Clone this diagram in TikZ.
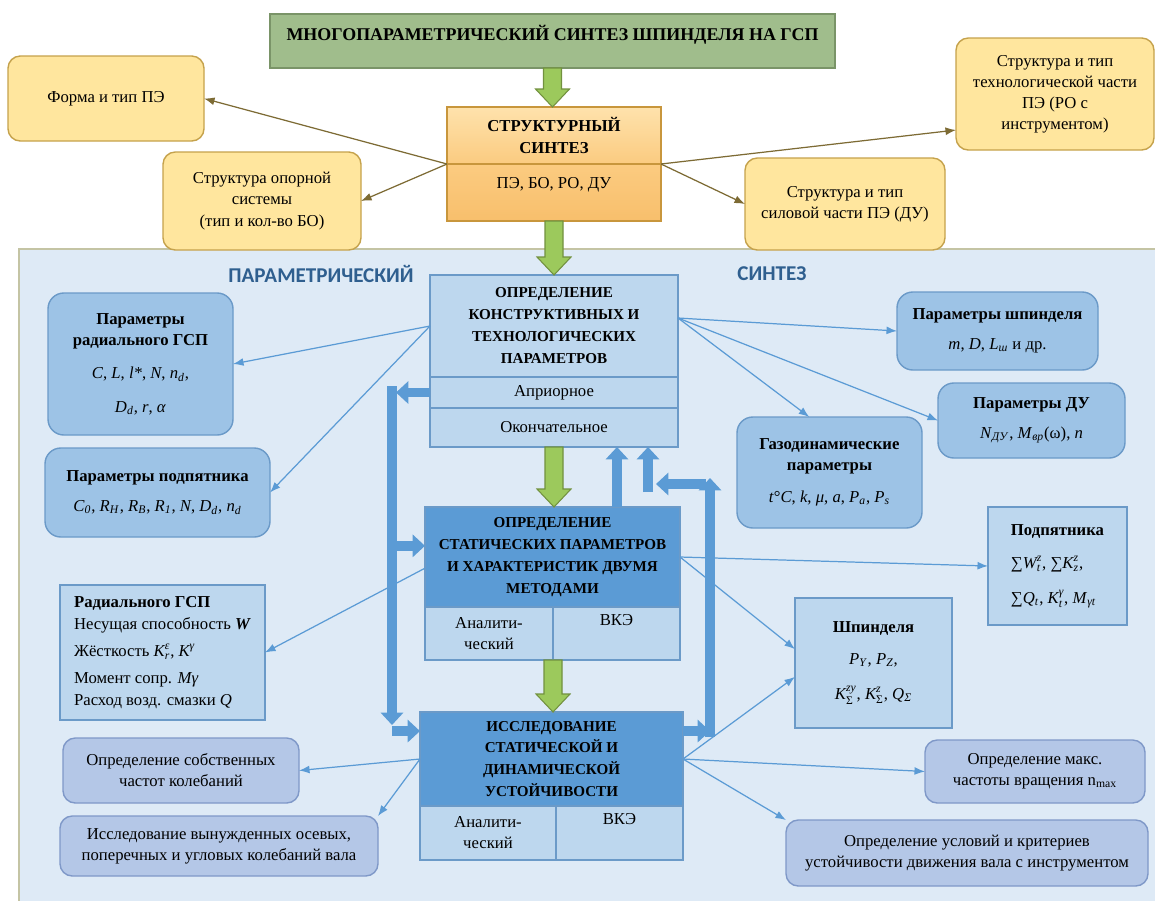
\documentclass[tikz,border=0pt]{standalone}
\usepackage{amsmath}
\usepackage{fontspec}
\setmainfont{Liberation Serif}
\newfontfamily\headfont{Carlito}
\usetikzlibrary{positioning,calc,arrows.meta}

\definecolor{panelfill}{HTML}{DEEAF6}
\definecolor{panelline}{HTML}{C4C4A4}
\definecolor{topgreen}{HTML}{A0BD8C}
\definecolor{topgreenline}{HTML}{7A9468}
\definecolor{arrgreen}{HTML}{9CC95C}
\definecolor{arrgreenline}{HTML}{72913F}
\definecolor{orlight}{HTML}{FEE2AC}
\definecolor{ormid}{HTML}{FBCB80}
\definecolor{ordark}{HTML}{F8BF6C}
\definecolor{orline}{HTML}{C8963C}
\definecolor{yelfill}{HTML}{FFE69E}
\definecolor{yelline}{HTML}{C5A24C}
\definecolor{olivearr}{HTML}{7D6B34}
\definecolor{midblue}{HTML}{5B9BD5}
\definecolor{cellblue}{HTML}{BDD7EE}
\definecolor{cellline}{HTML}{6B9AC8}
\definecolor{roundblue}{HTML}{9DC3E6}
\definecolor{lavfill}{HTML}{B4C7E7}
\definecolor{lavline}{HTML}{7F98C8}
\definecolor{titleblue}{HTML}{2F5F8F}

\tikzset{
  wh/.style 2 args={minimum width=#1*0.02cm, minimum height=#2*0.02cm},
  box/.style={draw, line width=0.8pt, outer sep=0pt, inner sep=2pt, align=center, text=black},
  titlebox/.style={box, fill=topgreen, draw=topgreenline, font=\bfseries\fontsize{10.2}{13}\selectfont},
  orbox/.style={box, draw=orline},
  ybox/.style={box, fill=yelfill, draw=yelline, rounded corners=7pt},
  cellbox/.style={box, fill=cellblue, draw=cellline},
  darkbox/.style={box, fill=midblue, draw=cellline},
  rbox/.style={box, fill=roundblue, draw=cellline, rounded corners=9pt},
  lavbox/.style={box, fill=lavfill, draw=lavline, rounded corners=7pt},
  headtxt/.style={font=\bfseries\fontsize{8.6}{12.5}\selectfont},
  sidelbl/.style={font=\headfont\bfseries\fontsize{12}{14}\selectfont, text=titleblue},
  link/.style={draw=midblue, line width=0.7pt, -{Latex[length=6pt,width=4.5pt]}},
  olink/.style={draw=olivearr, line width=0.7pt, -{Latex[length=6pt,width=4.5pt]}},
  fat/.style={draw=midblue, line width=5.5pt, -{Triangle[width=12.5pt,length=7pt]}}
}

\begin{document}
\begin{tikzpicture}[x=0.02cm, y=-0.02cm, font=\fontsize{9.5}{12}\selectfont]

  \def\ivar#1#2{\textit{#1}\textsubscript{\textit{#2}}}

  \def\greenarrow#1#2{
    \coordinate (ga) at (#1);
    \coordinate (gb) at (#1 |- #2);
    \filldraw[fill=arrgreen, draw=arrgreenline, line width=0.6pt]
      ($(ga)+(-9,0)$) -- ($(gb)+(-9,-18)$) -- ($(gb)+(-17,-18)$) -- (gb)
      -- ($(gb)+(17,-18)$) -- ($(gb)+(9,-18)$) -- ($(ga)+(9,0)$) -- cycle;
  }

  \useasboundingbox (0,0) rectangle (1155,900);
  \fill[white] (0,0) rectangle (1155,900);

  % panel of the parametric synthesis
  \filldraw[fill=panelfill, draw=panelline, line width=1pt] (19,249) rectangle (1175,920);
  \node[sidelbl] (ptitle) at (321,274) {ПАРАМЕТРИЧЕСКИЙ};
  \node[sidelbl] (stitle) at (772,274) {СИНТЕЗ};

  % structural synthesis
  \node[titlebox, wh={565}{54}, text depth=9pt] (title) at (552.5,41) {МНОГОПАРАМЕТРИЧЕСКИЙ СИНТЕЗ ШПИНДЕЛЯ НА ГСП};
  \node[orbox, wh={214}{57}, top color=orlight, bottom color=ormid, font=\bfseries\fontsize{9.5}{12.5}\selectfont] (struct) at (554,135.5) {СТРУКТУРНЫЙ\\СИНТЕЗ};
  \node[orbox, wh={214}{57}, top color=ormid, bottom color=ordark, text depth=11pt, below=0pt of struct] (structlo) {ПЭ, БО, РО, ДУ};

  \node[ybox, wh={196}{85}] (forma) at (106,98.5) {Форма и тип ПЭ};
  \node[ybox, wh={198}{98}] (opora) at (262,201) {Структура опорной\\системы\\(тип и кол-во БО)};
  \node[ybox, wh={198}{112}] (tehn) at (1055,94) {Структура и тип\\технологической части\\ПЭ (РО с\\инструментом)};
  \node[ybox, wh={200}{92}] (silov) at (845,204) {Структура и тип\\силовой части ПЭ (ДУ)};

  \draw[olink] (struct.south west) -- (forma.east);
  \draw[olink] (struct.south west) -- (opora.east);
  \draw[olink] (struct.south east) -- (tehn.200);
  \draw[olink] (struct.south east) -- (silov.west);

  % parametric synthesis, centre column
  \node[cellbox, wh={248}{102}, headtxt] (konstr) at (554,326) {ОПРЕДЕЛЕНИЕ\\КОНСТРУКТИВНЫХ И\\ТЕХНОЛОГИЧЕСКИХ\\ПАРАМЕТРОВ};
  \node[cellbox, wh={248}{31}, below=0pt of konstr] (apr) {Априорное};
  \node[cellbox, wh={248}{39}, below=0pt of apr] (okon) {Окончательное};

  \node[darkbox, wh={255}{100}, headtxt] (stat) at (552.5,557) {ОПРЕДЕЛЕНИЕ\\СТАТИЧЕСКИХ ПАРАМЕТРОВ\\И ХАРАКТЕРИСТИК ДВУМЯ\\МЕТОДАМИ};
  \node[cellbox, wh={128}{53}, below right=0pt and 0pt of stat.south west] (statan) {Аналити-\\ческий};
  \node[cellbox, wh={127}{53}, below left=0pt and 0pt of stat.south east] (statvke) {ВКЭ\\\strut};

  \node[darkbox, wh={263}{94}, headtxt] (issl) at (551.5,759) {ИССЛЕДОВАНИЕ\\СТАТИЧЕСКОЙ И\\ДИНАМИЧЕСКОЙ\\УСТОЙЧИВОСТИ};
  \node[cellbox, wh={136}{54}, below right=0pt and 0pt of issl.south west] (isslan) {Аналити-\\ческий};
  \node[cellbox, wh={127}{54}, below left=0pt and 0pt of issl.south east] (isslvke) {ВКЭ\\\strut};

  \greenarrow{title.south}{struct.north}
  \greenarrow{structlo.south}{konstr.north}
  \greenarrow{okon.south}{stat.north}
  \greenarrow{statan.south east}{issl.north}

  % parameters
  \node[rbox, wh={185}{142}] (radpar) at (140.5,364) {\textbf{Параметры}\\\textbf{радиального ГСП}\\[7pt]\textit{C}, \textit{L}, \textit{l*}, \textit{N}, \ivar{n}{d},\\[7pt]\ivar{D}{d}, \textit{r}, \textit{α}};
  \node[rbox, wh={225}{89}] (podpar) at (157.5,492.5) {\textbf{Параметры подпятника}\\[5pt]\ivar{C}{0}, \ivar{R}{H}, \ivar{R}{B}, \ivar{R}{1}, \textit{N}, \ivar{D}{d}, \ivar{n}{d}};
  \node[rbox, wh={201}{78}] (shpar) at (997.5,331) {\textbf{Параметры шпинделя}\\[5pt]\textit{m}, \textit{D}, \ivar{L}{ш} и др.};
  \node[rbox, wh={187}{75}] (dupar) at (1031.5,420.5) {\textbf{Параметры ДУ}\\[5pt]\ivar{N}{ДУ}, \ivar{M}{вр}(ω), \textit{n}};
  \node[rbox, wh={185}{111}] (gaz) at (829.5,472.5) {\textbf{Газодинамические}\\\textbf{параметры}\\[6pt]\textit{t}°\textit{C}, \textit{k}, \textit{μ}, \textit{a}, \ivar{P}{a}, \ivar{P}{s}};

  % results
  \node[cellbox, wh={139}{118}, align=left] (podres) at (1057.5,566) {\textbf{Подпятника}\\[7pt]∑$\textit{W}^{\textit{z}}_{\textit{t}}$, ∑$\textit{K}^{\textit{z}}_{\textit{z}}$,\\[8pt]∑\ivar{Q}{t}, $\textit{K}^{\textit{γ}}_{\textit{t}}$, \ivar{M}{γt}};
  \node[cellbox, wh={157}{130}] (shpres) at (873.5,663) {\textbf{Шпинделя}\\[6pt]\ivar{P}{Y}, \ivar{P}{Z},\\[8pt]$\textit{K}^{\textit{zy}}_{\textup{Σ}}$, $\textit{K}^{\textit{z}}_{\textup{Σ}}$, \ivar{Q}{Σ}};
  \node[cellbox, wh={205}{135}, align=left, font=\fontsize{9.5}{12.5}\selectfont] (radres) at (162.5,652.5) {\textbf{Радиального ГСП}\\Несущая способность \textbf{\textit{W}}\\[3pt]Жёсткость $\textit{K}^{\textit{ε}}_{\textit{r}}$, $\textit{K}^{\textit{γ}}$\\[3pt]Момент сопр. \textit{Mγ}\\Расход возд. смазки \textit{Q}};

  \node[lavbox, wh={236}{65}] (sobch) at (181,770.5) {Определение собственных\\частот колебаний};
  \node[lavbox, wh={318}{60}] (vynkol) at (219,846) {Исследование вынужденных осевых,\\поперечных и угловых колебаний вала};
  \node[lavbox, wh={220}{63}] (nmax) at (1035,771.5) {Определение макс.\\частоты вращения n\textsubscript{max}};
  \node[lavbox, wh={362}{66}] (uslov) at (967,853) {Определение условий и критериев\\устойчивости движения вала с инструментом};

  % thin links
  \coordinate (kr) at ($(konstr.east)+(0,-8)$);
  \draw[link] (konstr.west) -- (radpar.east);
  \draw[link] (konstr.west) -- (podpar.east);
  \draw[link] (kr) -- (shpar.west);
  \draw[link] (kr) -- (gaz.110);
  \draw[link] (kr) -- (dupar.west);
  \draw[link] (stat.east) -- (podres.west);
  \draw[link] (stat.east) -- (shpres.170);
  \draw[link] (stat.185) -- (radres.east);
  \draw[link] (issl.west) -- (sobch.east);
  \draw[link] (issl.west) -- (vynkol.north east);
  \draw[link] (issl.east) -- (shpres.190);
  \draw[link] (issl.east) -- (nmax.west);
  \draw[link] (issl.east) -- (uslov.north west);

  % feedback arrows
  \coordinate (lt) at (392,386);
  \coordinate (lb) at (392,725);
  \coordinate (rb) at (710,737);
  \coordinate (rt) at (710,478);
  \coordinate (ru) at (648,492);
  \coordinate (ua) at (617,0);
  \draw[fat] (apr.west) -- ++(-34,0);
  \draw[fat] (lt) -- (lb);
  \draw[fat] (lt |- stat.175) -- (stat.175);
  \draw[fat] (lt |- issl.168) -- (issl.168);
  \draw[fat] (issl.12) -- (rb |- issl.12);
  \draw[fat] (rb) -- (rt);
  \draw[fat] ($(rt)+(-4,6)$) -- ++(-50,0);
  \draw[fat] (ru) -- (ru |- okon.south);
  \draw[fat] (stat.north -| ua) -- (okon.south -| ua);

\end{tikzpicture}
\end{document}
